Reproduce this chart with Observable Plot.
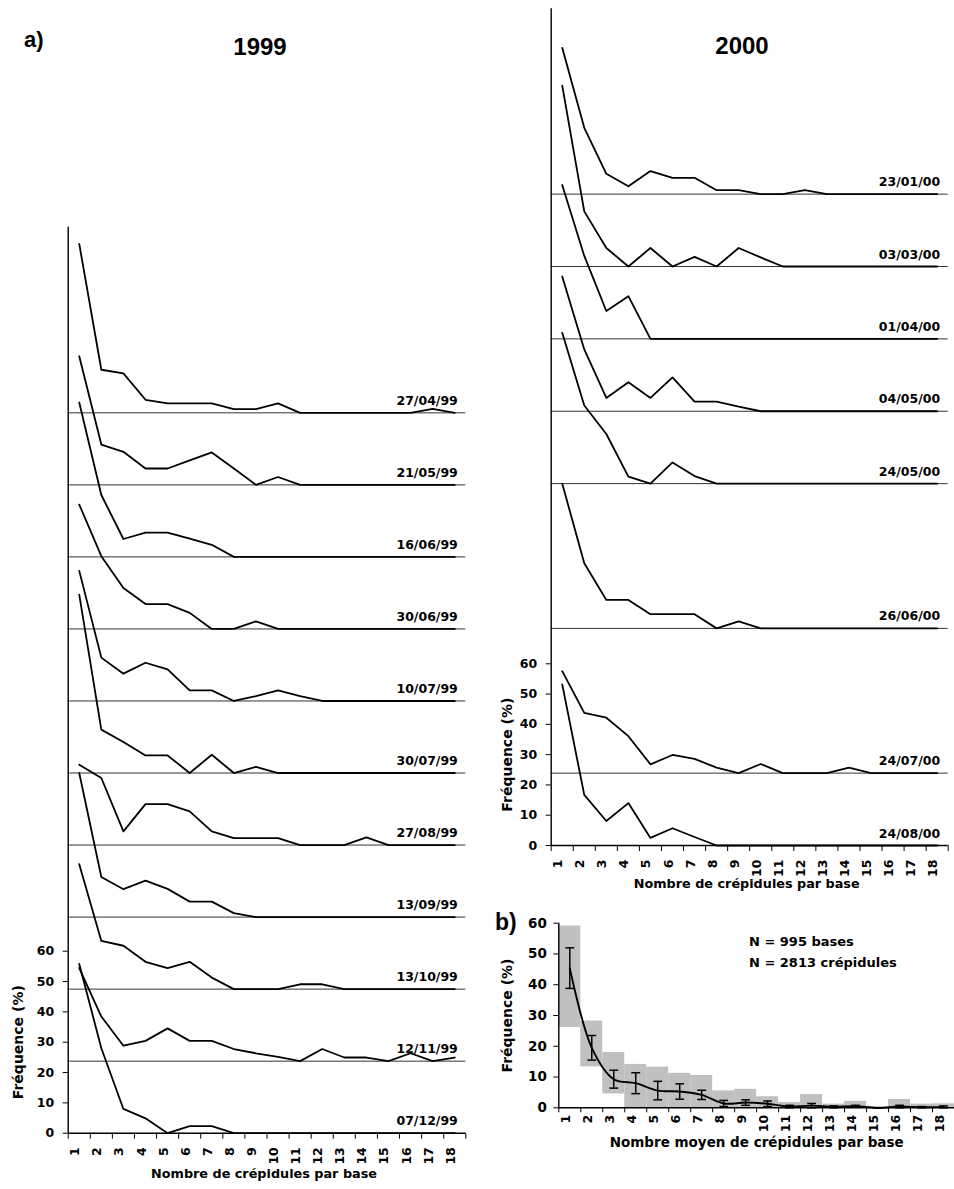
<!DOCTYPE html>
<html>
<head>
<meta charset="utf-8">
<script src="https://cdn.jsdelivr.net/npm/d3@7"></script>
<script src="https://cdn.jsdelivr.net/npm/@observablehq/plot@0.6"></script>
<style>
  body { margin: 0; background: #fff; }
  #page { position: relative; width: 954px; height: 1189px; overflow: hidden; background: #fff; }
  #page > svg { position: absolute; }
</style>
</head>
<body>
<div id="page"></div>
<script>
// ---------- DATA ----------
const cats = [1,2,3,4,5,6,7,8,9,10,11,12,13,14,15,16,17,18];
const yTickValues = [0,10,20,30,40,50,60];

// Panel a) 1999 — dates, stacking level (in baseline steps) and frequencies (%)
const dates1999 = ["27/04/99","21/05/99","16/06/99","30/06/99","10/07/99","30/07/99","27/08/99","13/09/99","13/10/99","12/11/99","07/12/99"];
const levels1999 = [10,9,8,7,6,5,4,3,2,1,0];
const values1999 = [
  [55.7,14.2,13.0,4.3,3.1,3.1,3.1,1.2,1.2,3.1,0,0,0,0,0,0,1.3,0],
  [42.4,13.3,10.9,5.4,5.4,8.1,10.7,5.4,0,2.6,0,0,0,0,0,0,0,0],
  [50.9,20.4,5.9,8.0,8.0,6.0,4.0,0,0,0,0,0,0,0,0,0,0,0],
  [41.0,24.0,13.5,8.2,8.2,5.3,0,0,2.5,0,0,0,0,0,0,0,0,0],
  [42.9,14.3,9.0,12.6,10.4,3.5,3.5,0,1.6,3.5,1.6,0,0,0,0,0,0,0],
  [58.8,14.3,10.2,5.8,5.8,0,6.0,0,2.0,0,0,0,0,0,0,0,0,0],
  [26.5,22.1,4.5,13.5,13.5,11.1,4.5,2.3,2.3,2.3,0,0,0,2.5,0,0,0,0],
  [47.5,13.2,9.2,12.0,9.3,5.1,5.1,1.3,0,0,0,0,0,0,0,0,0,0],
  [41.2,15.9,14.3,9.0,6.9,9.0,3.8,0,0,0,1.6,1.6,0,0,0,0,0,0],
  [30.7,14.7,5.1,6.7,10.8,6.7,6.7,4.0,2.6,1.4,0,4.0,1.2,1.2,0,2.6,0,1.2],
  [55.8,28.0,8.0,4.9,0,2.3,2.3,0,0,0,0,0,0,0,0,0,0,0]
];

// Panel a) 2000
const dates2000 = ["23/01/00","03/03/00","01/04/00","04/05/00","24/05/00","26/06/00","24/07/00","24/08/00"];
const levels2000 = [9,8,7,6,5,3,1,0];
const values2000 = [
  [48.3,21.9,6.7,2.6,7.6,5.4,5.4,1.3,1.3,0,0,1.3,0,0,0,0,0,0],
  [59.7,18.2,6.1,0,6.1,0,3.2,0,6.1,3.0,0,0,0,0,0,0,0,0],
  [50.8,27.4,9.2,14.1,0,0,0,0,0,0,0,0,0,0,0,0,0,0],
  [44.5,20.4,4.4,9.6,4.4,11.2,3.2,3.2,1.5,0,0,0,0,0,0,0,0,0],
  [49.8,25.8,16.4,2.3,0,7.0,2.5,0,0,0,0,0,0,0,0,0,0,0],
  [47.8,21.5,9.4,9.4,4.7,4.7,4.7,0,2.3,0,0,0,0,0,0,0,0,0],
  [33.7,19.9,18.3,12.2,2.9,6.0,4.7,1.8,0,3.0,0,0,0,1.8,0,0,0,0],
  [53.2,16.7,8.1,14.0,2.5,5.7,2.8,0,0,0,0,0,0,0,0,0,0,0]
];

// Panel b) — range (grey), mean and error
const minB  = [26.1,13.3,4.5,0,0,0,0,0,0,0,0,0,0,0,0,0,0,0];
const maxB  = [59.1,28.2,18.0,14.1,13.2,11.2,10.5,5.5,6.0,3.6,1.7,4.3,1.2,2.1,0,2.7,1.2,1.3];
const meanB = [45.4,19.5,9.3,8.0,5.6,5.3,4.2,1.4,1.7,1.3,0.4,0.7,0.3,0.5,0,0.4,0.2,0.3];
const errB  = [6.6,4.0,2.9,3.4,3.0,2.5,1.5,1.0,0.9,0.9,0.4,0.7,0.3,0.3,0,0.4,0.2,0.3];

// ---------- CHARTS ----------
const SMALL = "DejaVu Sans";
const xTicks = d3.range(0.5, 19, 1);

function ridge(o) {
  const data = o.dates.flatMap((d, i) =>
    o.values[i].map((v, j) => ({date: d, n: cats[j], y: o.levels[i] * o.step + v})));
  const bases = o.dates.map((d, i) => ({date: d, y: o.levels[i] * o.step}));
  return Plot.plot({
    width: o.width, height: o.height,
    marginLeft: o.mL, marginRight: o.mR, marginTop: o.mT, marginBottom: o.mB,
    style: {background: "transparent", fontFamily: SMALL, fontWeight: "bold", fontSize: "12.5px", color: "#000", overflow: "visible"},
    x: {type: "linear", domain: [0.5, 18.5]},
    y: {type: "linear", domain: [0, o.yTop]},
    marks: [
      Plot.ruleY(bases.filter(b => b.y > 0), {y: "y", stroke: "#333", strokeWidth: 1}),
      Plot.line(data, {x: "n", y: "y", z: "date", stroke: "#000", strokeWidth: 1.8}),
      Plot.text(bases, {y: "y", text: "date", frameAnchor: "right", textAnchor: "end", lineAnchor: "bottom", dx: -8, dy: -8, fontSize: 12.5, fontWeight: "bold", fill: "#000"}),
      Plot.ruleX([0.5], {stroke: "#000", strokeWidth: 1.4}),
      Plot.ruleY([0], {stroke: "#000", strokeWidth: 1.4}),
      Plot.axisY({ticks: yTickValues, tickSize: 5, tickPadding: 9, label: null, fontSize: 12.5, fontWeight: "bold"}),
      Plot.axisX({ticks: xTicks, tickSize: 6, tickFormat: () => "", label: null}),
      Plot.text(cats, {x: d => d, frameAnchor: "bottom", rotate: -90, textAnchor: "end", dy: 14, fontSize: 12.5, fontWeight: "bold"}),
      Plot.text(["Fréquence (%)"], {y: [30], frameAnchor: "left", rotate: -90, textAnchor: "middle", dx: o.ylabDx, fontSize: 14, fontWeight: "bold"}),
      Plot.text(["Nombre de crépidules par base"], {frameAnchor: "bottom", dy: o.xlabDy, dx: -3, fontSize: 12.8, fontWeight: "bold"})
    ]
  });
}

const page = document.getElementById("page");

const left = ridge({
  dates: dates1999, levels: levels1999, values: values1999, step: 23.75, yTop: 298.7,
  width: 480, height: 1189, mL: 67.7, mR: 14.7, mT: 226.7, mB: 56.3, ylabDx: -50, xlabDy: 45
});
left.style.left = "0px"; left.style.top = "0px";
page.appendChild(left);

const right = ridge({
  dates: dates2000, levels: levels2000, values: values2000, step: 23.9, yTop: 276.3,
  width: 474, height: 900, mL: 70.7, mR: 6.3, mT: 8.3, mB: 55, ylabDx: -44, xlabDy: 42
});
right.style.left = "480px"; right.style.top = "0px";
page.appendChild(right);

const panelB = Plot.plot({
  width: 474, height: 289,
  marginLeft: 78.3, marginRight: 0, marginTop: 22.7, marginBottom: 81.7,
  style: {background: "transparent", fontFamily: SMALL, fontWeight: "bold", fontSize: "13px", color: "#000", overflow: "visible"},
  x: {type: "linear", domain: [0.5, 18.5]},
  y: {type: "linear", domain: [0, 60]},
  marks: [
    Plot.rect(cats, {x1: d => d - 0.5, x2: d => d + 0.5, y1: (d, i) => minB[i], y2: (d, i) => maxB[i], fill: "#c0c0c0"}),
    Plot.line(cats, {x: d => d, y: (d, i) => meanB[i], curve: "catmull-rom", stroke: "#000", strokeWidth: 1.9}),
    Plot.ruleX(cats, {x: d => d, y1: (d, i) => meanB[i] - errB[i], y2: (d, i) => meanB[i] + errB[i], stroke: "#000", strokeWidth: 1.5}),
    Plot.link(cats, {x1: d => d - 0.2, x2: d => d + 0.2, y1: (d, i) => meanB[i] + errB[i], y2: (d, i) => meanB[i] + errB[i], stroke: "#000", strokeWidth: 1.5}),
    Plot.link(cats, {x1: d => d - 0.2, x2: d => d + 0.2, y1: (d, i) => meanB[i] - errB[i], y2: (d, i) => meanB[i] - errB[i], stroke: "#000", strokeWidth: 1.5}),
    Plot.ruleX([0.5], {stroke: "#000", strokeWidth: 1.4}),
    Plot.ruleY([0], {stroke: "#000", strokeWidth: 1.6}),
    Plot.axisY({ticks: yTickValues, tickSize: 5, tickPadding: 7, label: null, fontSize: 13.5, fontWeight: "bold"}),
    Plot.axisX({ticks: xTicks, tickSize: 5, tickFormat: () => "", label: null}),
    Plot.text(cats, {x: d => d, frameAnchor: "bottom", rotate: -90, textAnchor: "end", dy: 7, fontSize: 12.5, fontWeight: "bold"}),
    Plot.text(["Fréquence (%)"], {y: [30], frameAnchor: "left", rotate: -90, textAnchor: "middle", dx: -51.6, fontSize: 14, fontWeight: "bold"}),
    Plot.text(["Nombre moyen de crépidules par base"], {frameAnchor: "bottom", dy: 39, fontSize: 13.5, fontWeight: "bold"})
  ]
});
panelB.style.left = "480px"; panelB.style.top = "900px";
page.appendChild(panelB);

// ---------- TITLES / ANNOTATIONS ----------
const ov = d3.create("svg").attr("width", 954).attr("height", 1189)
  .style("left", "0px").style("top", "0px").style("pointer-events", "none")
  .attr("font-weight", "bold").attr("fill", "#000");
const big = "Liberation Sans, Arial, sans-serif";
ov.append("text").attr("x", 24).attr("y", 47).attr("font-family", big).attr("font-size", 22).text("a)");
ov.append("text").attr("x", 260).attr("y", 55).attr("text-anchor", "middle").attr("font-family", big).attr("font-size", 24).text("1999");
ov.append("text").attr("x", 742).attr("y", 54).attr("text-anchor", "middle").attr("font-family", big).attr("font-size", 24).text("2000");
ov.append("text").attr("x", 495).attr("y", 930).attr("font-family", big).attr("font-size", 23).text("b)");
ov.append("text").attr("x", 749).attr("y", 946).attr("font-family", SMALL).attr("font-size", 13).text("N = 995 bases");
ov.append("text").attr("x", 749).attr("y", 967).attr("font-family", SMALL).attr("font-size", 13).text("N = 2813 crépidules");
page.appendChild(ov.node());
</script>
</body>
</html>
